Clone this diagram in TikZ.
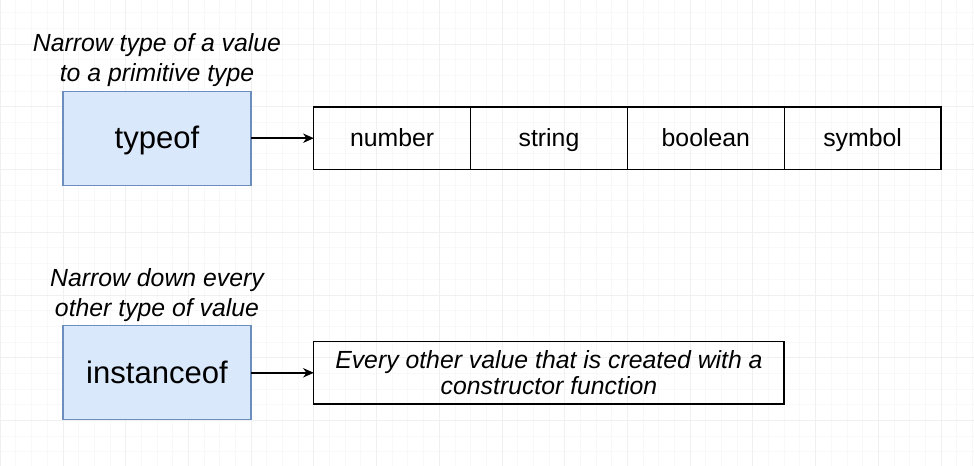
\documentclass[tikz,border=0pt]{standalone}
\usepackage{fontspec}
\setmainfont{Liberation Sans}
\usetikzlibrary{positioning,arrows.meta}
\definecolor{boxblue}{HTML}{DAE8FC}
\definecolor{boxedge}{HTML}{6C8EBF}
\definecolor{gridminor}{HTML}{F8F8F8}
\definecolor{gridmajor}{HTML}{F0F0F0}
\tikzset{
  keyword/.style={draw=boxedge, fill=boxblue, line width=0.9pt, outer sep=0pt,
    minimum width=141pt, minimum height=70.5pt, text height=19.8pt, text depth=4pt,
    font=\fontsize{23.3}{28}\selectfont},
  kind/.style={draw, line width=1pt, outer sep=0pt, minimum width=117.6pt,
    minimum height=47pt, text height=15.8pt, text depth=2.8pt,
    font=\fontsize{18.6}{22}\selectfont},
  note/.style={align=center, inner sep=1pt, font=\fontsize{18.6}{22.5}\selectfont\itshape},
  link/.style={-{Stealth[length=8pt, width=7pt, inset=2.5pt]}, line width=1.2pt}
}
\begin{document}
\begin{tikzpicture}[x=0.75pt, y=-0.75pt]
\useasboundingbox (0,0) rectangle (974,466);
\fill[white] (0,0) rectangle (974,466);

% grid
\foreach \i in {0,...,62}
  \draw[gridminor, line width=0.75pt] ({0.3+15.68*\i},0) -- ++(0,466);
\foreach \j in {0,...,28}
  \draw[gridminor, line width=0.75pt] (0,{12.8+15.68*\j}) -- ++(974,0);
\foreach \i in {0,...,15}
  \draw[gridmajor, line width=0.75pt] ({0.3+62.72*\i},0) -- ++(0,466);
\foreach \j in {0,...,6}
  \draw[gridmajor, line width=0.75pt] (0,{44.2+62.72*\j}) -- ++(974,0);

% first row
\node[keyword] (typeof) at (157,138.2) {typeof};
\node[note, above=2pt of typeof] (typeofnote) {Narrow type of a value\\to a primitive type};

\node[kind, right=47.1pt of typeof] (number) {number};
\node[kind, right=0pt of number] (string) {string};
\node[kind, right=0pt of string] (boolean) {boolean};
\node[kind, right=0pt of boolean] (symbol) {symbol};

\draw[link] (typeof) -- (number);

% second row
\node[keyword] (instanceof) at (157,372.8) {instanceof};
\node[note, above=2pt of instanceof] (instanceofnote) {Narrow down every\\other type of value};

\node[kind, minimum width=352.7pt, align=center, text height=, text depth=, inner sep=0pt,
  font=\fontsize{18.6}{20}\selectfont\itshape, right=47.1pt of instanceof] (other)
  {Every other value that is created with a\\constructor function};

\draw[link] (instanceof) -- (other);

\end{tikzpicture}
\end{document}
